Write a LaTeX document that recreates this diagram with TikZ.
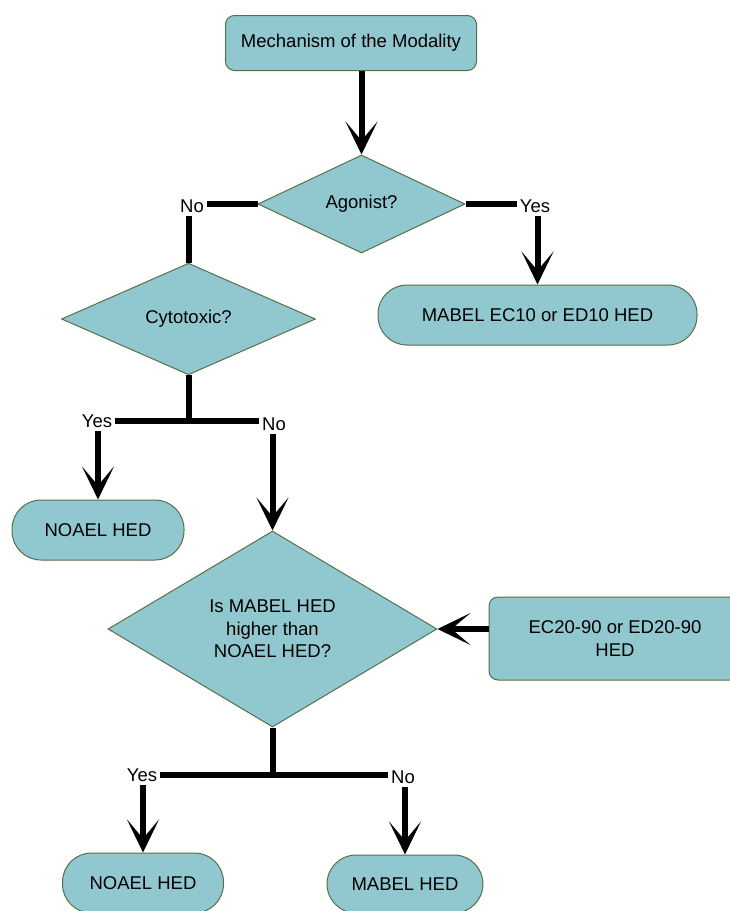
\documentclass[tikz,border=0pt]{standalone}
\usepackage{fontspec}
\setmainfont{Liberation Sans}
\usepackage{xcolor}
\usepackage{tikz}
\usetikzlibrary{arrows.meta, positioning, shapes.geometric}

\definecolor{boxfill}{RGB}{145,200,207}
\definecolor{boxline}{RGB}{84,112,72}

\begin{document}
\begin{tikzpicture}[x=1pt, y=-1pt,
    font=\fontsize{18.5}{22.5}\selectfont,
    flowbox/.style={draw=boxline, line width=1pt, fill=boxfill, inner sep=2pt, align=center},
    decision/.style={flowbox, diamond},
    stadium/.style={flowbox, rectangle, rounded corners=29pt},
    plainbox/.style={flowbox, rectangle, rounded corners=9pt},
    answer/.style={inner sep=3pt},
    link/.style={line width=6pt},
    arrow/.style={link, -{Stealth[length=33pt, width=32pt, inset=19pt]}}]
      \useasboundingbox (0,0) rectangle (730,911);
      \clip (0,0) rectangle (730,911);

      % Start
      \node[plainbox, minimum width=251pt, minimum height=55pt] (mech) at (351,43) {Mechanism of the Modality};

      % Agonist
      \node[decision, minimum width=207pt, minimum height=98pt] (agonist) at (361.5,204) {Agonist?};
      \node[answer] (agoNo) at (192,206) {No};
      \node[answer] (agoYes) at (535,206) {Yes};
      \node[stadium, minimum width=319pt, minimum height=60pt] (mabelTen) at (537.5,315) {MABEL EC10 or ED10 HED};
      \draw[arrow] (agonist.north |- mech.south) -- (agonist.north);
      \draw[link] (agonist.west) -- (agoNo.east |- agonist.west);
      \draw[link] (agonist.east) -- (agoYes.west |- agonist.east);
      \draw[arrow] (agoYes.south -| mabelTen.north) -- (mabelTen.north);

      % Cytotoxic
      \node[decision, minimum width=254pt, minimum height=94pt] (cyto) at (188.5,319) {Cytotoxic?};
      \draw[link] (agoNo.south -| cyto.north) -- (cyto.north);
      \coordinate (cytoJoin) at (188.5,421);
      \node[answer] (cytoYes) at (97,421) {Yes};
      \node[answer] (cytoNo) at (274,424) {No};
      \node[stadium, minimum width=172pt, minimum height=60pt] (noaelOne) at (98,530) {NOAEL HED};
      \draw[link] (cyto.south) -- (cytoJoin);
      \draw[link] (cytoYes.east |- cytoJoin) -- (cytoNo.west |- cytoJoin);
      \draw[arrow] (cytoYes.south -| noaelOne.north) -- (noaelOne.north);

      % Comparison
      \node[decision, minimum width=329pt, minimum height=196pt] (compare) at (272.5,629) {Is MABEL HED\\higher than\\NOAEL HED?};
      \node[plainbox, minimum width=252pt, minimum height=83pt] (ecBox) at (615,638.5) {EC20-90 or ED20-90\\HED};
      \draw[arrow] (cytoNo.south -| compare.north) -- (compare.north);
      \draw[arrow] (ecBox.west |- compare.east) -- (compare.east);

      \coordinate (cmpJoin) at (272.5,775);
      \node[answer] (cmpYes) at (142,775) {Yes};
      \node[answer] (cmpNo) at (403,777) {No};
      \node[stadium, minimum width=161pt, minimum height=60pt] (noaelTwo) at (143,883) {NOAEL HED};
      \node[stadium, minimum width=156pt, minimum height=58pt] (mabelHed) at (405,884) {MABEL HED};
      \draw[link] (compare.south) -- (cmpJoin);
      \draw[link] (cmpYes.east |- cmpJoin) -- (cmpNo.west |- cmpJoin);
      \draw[arrow] (cmpYes.south -| noaelTwo.north) -- (noaelTwo.north);
      \draw[arrow] (cmpNo.south -| mabelHed.north) -- (mabelHed.north);
    \end{tikzpicture}
\end{document}
